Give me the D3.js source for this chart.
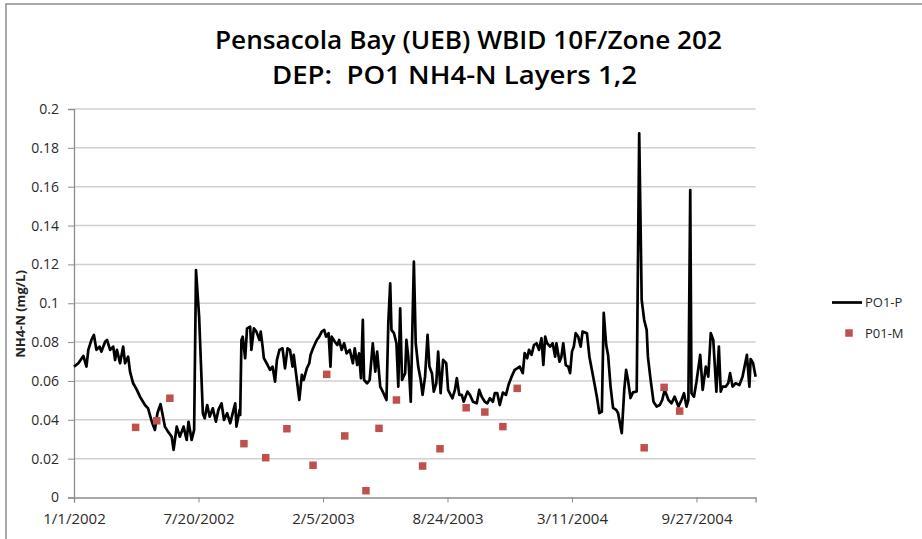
<!DOCTYPE html>
<html><head><meta charset="utf-8">
<script src="https://cdn.jsdelivr.net/npm/d3@7"></script>
<style>
body{margin:0;background:#fff;}
svg{display:block;}
text{font-family:'Open Sans','Lato',sans-serif;}
</style>
</head><body>
<svg id="chart" width="922" height="539"></svg>
<script>
const titleLines = ["Pensacola Bay (UEB) WBID 10F/Zone 202", "DEP:  PO1 NH4-N Layers 1,2"];
const yAxisTitle = "NH4-N (mg/L)";
const yTicks = [0, 0.02, 0.04, 0.06, 0.08, 0.1, 0.12, 0.14, 0.16, 0.18, 0.2];
const xTickLabels = ["1/1/2002", "7/20/2002", "2/5/2003", "8/24/2003", "3/11/2004", "9/27/2004"];
const seriesNames = ["PO1-P", "P01-M"];

// PO1-P (model): days since 1/1/2002 and NH4-N values
const modelDays = [0,7,15,20,23,28,32,36,41,44,50,53,58,63,66,69,74,79,82,87,90,95,101,106,114,119,125,130,134,139,143,146,151,157,160,165,170,176,181,184,189,193,196,201,207,210,214,218,223,228,232,237,241,246,251,255,259,261,266,267,269,271,275,278,283,285,289,293,298,300,303,305,311,315,319,323,326,330,335,339,343,347,351,353,358,362,366,369,374,378,380,384,390,394,398,402,405,409,412,414,419,423,426,430,434,438,443,448,451,455,458,461,464,466,471,475,480,484,487,492,496,502,505,508,510,514,518,521,524,527,532,534,537,541,546,549,553,557,560,564,568,571,575,578,582,585,589,593,598,601,605,608,612,615,619,623,626,632,636,641,647,651,655,660,664,668,673,676,680,684,689,694,698,703,708,712,716,721,724,728,731,735,739,743,747,751,754,757,760,765,769,773,775,780,783,786,790,794,797,800,803,806,810,814,817,824,828,833,840,844,848,851,855,858,862,866,871,874,880,884,887,890,894,898,904,908,912,916,920,922,926,931,936,941,945,949,955,960,965,971,976,980,984,987,990,992,996,1000,1006,1010,1015,1019,1023,1027,1032,1036,1039,1042,1047,1051,1054,1058,1063,1069,1074,1081,1085,1087,1091,1095];
const modelValues = [0.0674,0.0691,0.0729,0.0674,0.0760,0.0811,0.0837,0.0760,0.0777,0.0751,
0.0802,0.0811,0.0760,0.0777,0.0708,0.0760,0.0691,0.0777,0.0691,0.0725,
0.0648,0.0588,0.0554,0.0519,0.0476,0.0459,0.0390,0.0348,0.0434,0.0481,
0.0416,0.0365,0.0339,0.0313,0.0245,0.0365,0.0313,0.0365,0.0296,0.0390,
0.0296,0.0348,0.1171,0.0931,0.0434,0.0408,0.0476,0.0416,0.0459,0.0390,
0.0451,0.0485,0.0399,0.0434,0.0382,0.0434,0.0485,0.0365,0.0451,0.0425,
0.0811,0.0828,0.0717,0.0871,0.0880,0.0760,0.0871,0.0854,0.0811,0.0854,
0.0777,0.0717,0.0682,0.0657,0.0674,0.0596,0.0708,0.0760,0.0768,0.0665,
0.0768,0.0760,0.0674,0.0734,0.0605,0.0502,0.0631,0.0605,0.0665,0.0691,
0.0734,0.0768,0.0811,0.0828,0.0854,0.0863,0.0828,0.0846,0.0674,0.0828,
0.0802,0.0785,0.0811,0.0760,0.0794,0.0742,0.0760,0.0691,0.0768,0.0682,
0.0742,0.0614,0.0914,0.0605,0.0588,0.0605,0.0794,0.0648,0.0751,0.0571,
0.0545,0.0502,0.0905,0.1103,0.0863,0.0846,0.0794,0.0571,0.0974,0.0605,
0.0640,0.0811,0.0725,0.0493,0.1214,0.0794,0.0674,0.0605,0.0528,0.0622,
0.0837,0.0674,0.0640,0.0545,0.0588,0.0751,0.0537,0.0708,0.0691,0.0554,
0.0528,0.0511,0.0554,0.0614,0.0528,0.0528,0.0493,0.0545,0.0528,0.0493,
0.0485,0.0554,0.0519,0.0493,0.0485,0.0511,0.0493,0.0537,0.0537,0.0476,
0.0540,0.0528,0.0579,0.0622,0.0657,0.0665,0.0674,0.0640,0.0743,0.0717,
0.0760,0.0734,0.0785,0.0794,0.0760,0.0820,0.0682,0.0828,0.0794,0.0777,
0.0794,0.0725,0.0794,0.0699,0.0725,0.0794,0.0682,0.0674,0.0640,0.0751,
0.0777,0.0846,0.0828,0.0777,0.0854,0.0846,0.0725,0.0640,0.0519,0.0434,
0.0442,0.0950,0.0785,0.0734,0.0571,0.0461,0.0451,0.0435,0.0331,0.0554,
0.0657,0.0605,0.0512,0.0541,0.0546,0.1875,0.1017,0.0914,0.0863,0.0725,
0.0615,0.0493,0.0468,0.0476,0.0502,0.0554,0.0502,0.0485,0.0519,0.0468,
0.0502,0.0537,0.0468,0.0502,0.1583,0.0537,0.0519,0.0596,0.0734,0.0554,
0.0674,0.0622,0.0846,0.0811,0.0545,0.0777,0.0545,0.0571,0.0571,0.0588,
0.0640,0.0571,0.0588,0.0579,0.0622,0.0734,0.0571,0.0713,0.0691,0.0622];

// P01-M (measured): days since 1/1/2002 and NH4-N values
const obsDays = [99,133,154,273,308,342,384,406,435,469,490,518,560,588,630,660,689,712,916,948,973];
const obsValues = [0.0361,0.0395,0.0511,0.0277,0.0205,0.0354,0.0166,0.0634,0.0317,0.0035,0.0356,0.0502,0.0162,0.0251,0.0462,0.0440,0.0365,0.0562,0.0256,0.0567,0.0445];

const startDate = new Date(2002, 0, 1);
const endDate = new Date(2004, 11, 31);
const parseDate = d3.timeParse("%m/%d/%Y");
const modelData = modelDays.map((d, i) => ({date: d3.timeDay.offset(startDate, d), value: modelValues[i]}));
const obsData = obsDays.map((d, i) => ({date: d3.timeDay.offset(startDate, d), value: obsValues[i]}));
const xTickDates = xTickLabels.map(parseDate);

const svg = d3.select("#chart");
const plotL = 74, plotR = 755.6, plotT = 109, plotB = 497.5;

const x = d3.scaleTime().domain([startDate, endDate]).range([plotL, plotR]);
const y = d3.scaleLinear().domain([0, 0.2]).range([plotB, plotT]);

// outer chart border
svg.append("rect").attr("x", 6).attr("y", 4).attr("width", 930).attr("height", 540)
  .attr("fill", "none").attr("stroke", "#8c8c8c").attr("stroke-width", 1.5);

// gridlines
svg.append("g").selectAll("line").data(yTicks.slice(1)).join("line")
  .attr("x1", plotL).attr("x2", plotR)
  .attr("y1", d => y(d)).attr("y2", d => y(d))
  .attr("stroke", "#d0d0d0").attr("stroke-width", 1.5);

// y axis
const yAxis = svg.append("g").attr("transform", `translate(${plotL},0)`)
  .call(d3.axisLeft(y).tickValues(yTicks).tickSize(6).tickPadding(9)
    .tickFormat(d => String(+d.toFixed(2))));
yAxis.select(".domain").attr("stroke", "#8c8c8c").attr("stroke-width", 1.3);
yAxis.selectAll(".tick line").attr("stroke", "#8c8c8c");
yAxis.selectAll(".tick text").attr("fill", "#2a2a2a").style("font-size", "14px");

// x axis
const xAxis = svg.append("g").attr("transform", `translate(0,${plotB})`)
  .call(d3.axisBottom(x).tickValues(xTickDates).tickSize(5).tickPadding(11)
    .tickFormat((d, i) => xTickLabels[i]));
xAxis.select(".domain").attr("stroke", "#8c8c8c").attr("stroke-width", 1.3);
xAxis.selectAll(".tick line").attr("stroke", "#8c8c8c");
xAxis.selectAll(".tick text").attr("fill", "#2a2a2a").style("font-size", "15px");

// model line
const line = d3.line().x(d => x(d.date)).y(d => y(d.value));
svg.append("path").datum(modelData).attr("d", line)
  .attr("fill", "none").attr("stroke", "#000").attr("stroke-width", 2.7)
  .attr("stroke-linejoin", "round");

// observed squares
const sq = 7.5;
svg.append("g").selectAll("rect").data(obsData).join("rect")
  .attr("x", d => x(d.date) - sq / 2).attr("y", d => y(d.value) - sq / 2)
  .attr("width", sq).attr("height", sq).attr("fill", "#c0504d");

// title
svg.append("text").attr("x", 215).attr("y", 49).text(titleLines[0])
  .style("font-size", "26px").style("font-weight", "600").attr("fill", "#000")
  .attr("textLength", 507).attr("lengthAdjust", "spacingAndGlyphs");
svg.append("text").attr("x", 272).attr("y", 84).text(titleLines[1])
  .style("font-size", "26px").style("font-weight", "600").attr("fill", "#000").style("white-space", "pre")
  .attr("textLength", 365).attr("lengthAdjust", "spacingAndGlyphs");

// y axis title
svg.append("text").attr("transform", "translate(25,314) rotate(-90)")
  .attr("text-anchor", "middle").style("font-size", "13px").style("font-weight", "bold")
  .attr("fill", "#222").text(yAxisTitle);

// legend
const lg = svg.append("g");
lg.append("line").attr("x1", 832).attr("x2", 862).attr("y1", 302.5).attr("y2", 302.5)
  .attr("stroke", "#000").attr("stroke-width", 2.7);
lg.append("text").attr("x", 865).attr("y", 307).style("font-size", "13px").attr("fill", "#2a2a2a").text(seriesNames[0]);
lg.append("rect").attr("x", 849 - sq / 2).attr("y", 333 - sq / 2).attr("width", sq).attr("height", sq).attr("fill", "#c0504d");
lg.append("text").attr("x", 865).attr("y", 338).style("font-size", "13px").attr("fill", "#2a2a2a").text(seriesNames[1]);
</script>
</body></html>
